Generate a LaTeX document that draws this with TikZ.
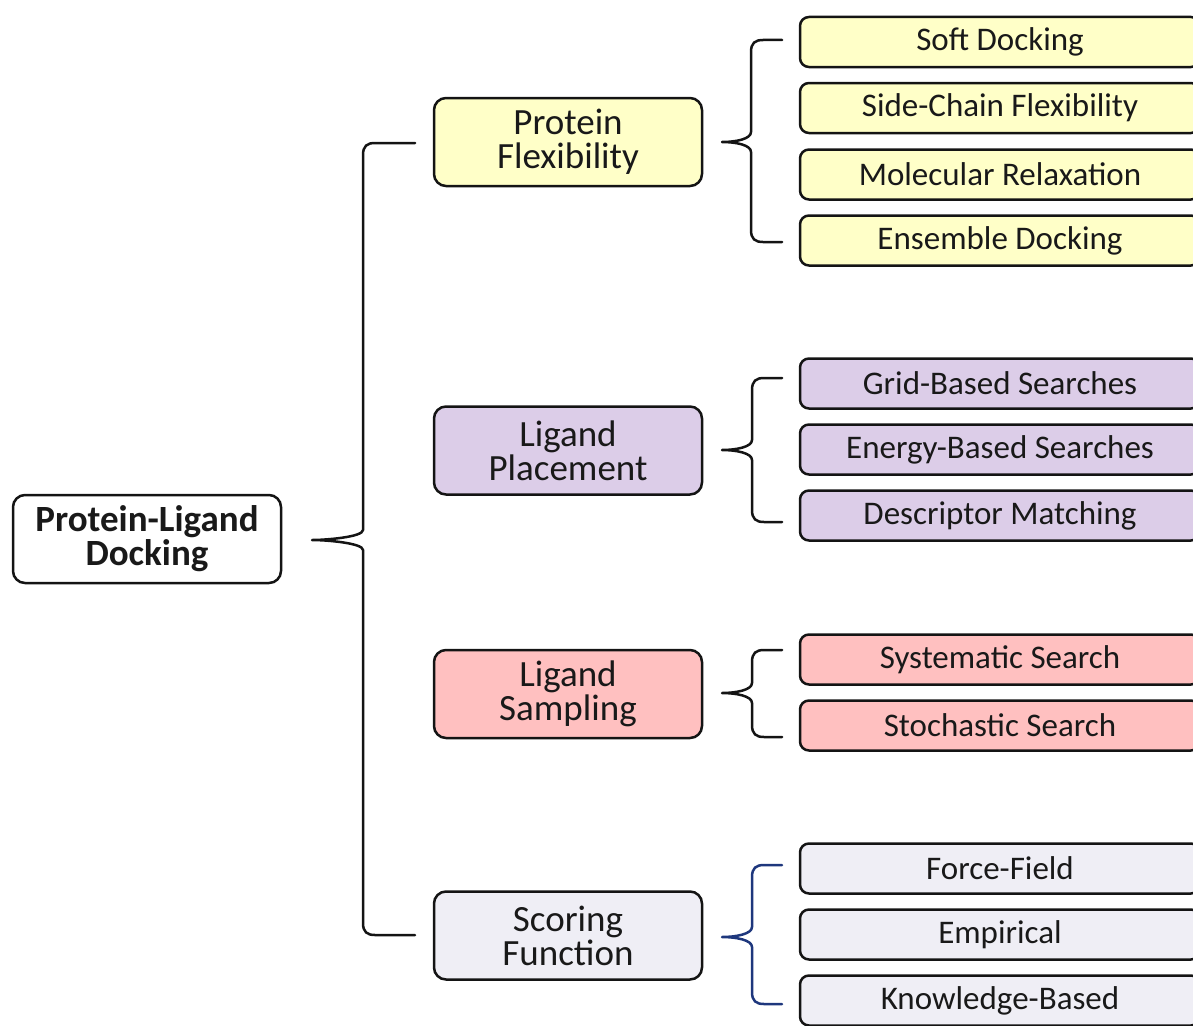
\documentclass[tikz,border=0pt]{standalone}
\usepackage{fontspec}
\setmainfont{Carlito}
\definecolor{cyel}{RGB}{255,255,200}
\definecolor{cpur}{RGB}{220,205,232}
\definecolor{cpink}{RGB}{255,192,192}
\definecolor{cgray}{RGB}{239,238,245}
\definecolor{ctext}{RGB}{25,25,25}
\definecolor{cline}{RGB}{20,20,20}
\definecolor{cnavy}{RGB}{30,55,125}
\newcommand{\bracepath}[6]{%
 (#4,#1) -- (#5+12,#1) .. controls (#5+4,#1) and (#5,#1+3) .. (#5,#1+12)
 -- (#5,#2-10) .. controls (#5,#2-3) and (#6+14,#2) .. (#6,#2)
 .. controls (#6+14,#2) and (#5,#2+3) .. (#5,#2+10)
 -- (#5,#3-12) .. controls (#5,#3-3) and (#5+4,#3) .. (#5+12,#3) -- (#4,#3)}
\tikzset{
  box/.style={draw=cline, line width=2.5pt, rounded corners=12pt, text=ctext, align=center, inner sep=0pt},
  mainbox/.style={box, fill=white, minimum width=268pt, minimum height=88pt, font=\fontsize{37}{34}\selectfont\bfseries},
  midbox/.style={box, minimum width=268pt, minimum height=88pt, font=\fontsize{37}{34}\selectfont},
  leafbox/.style={box, rounded corners=9pt, minimum width=400pt, minimum height=50pt, font=\fontsize{33}{36}\selectfont},
  bracestyle/.style={draw=cline, line width=2.5pt, line cap=round, line join=round},
}
\begin{document}
\begin{tikzpicture}[x=1pt,y=-1pt]
\useasboundingbox (0,0) rectangle (1193,1025);
\clip (0,0) rectangle (1193,1025);
% main
\node[mainbox] (main) at (147,539) {Protein-Ligand\\Docking};
% mid
\node[midbox, fill=cyel] (pf) at (568,142) {Protein\\Flexibility};
\node[midbox, fill=cpur] (lp) at (568,450.5) {Ligand\\Placement};
\node[midbox, fill=cpink] (ls) at (568,694) {Ligand\\Sampling};
\node[midbox, fill=cgray] (sf) at (568,935.5) {Scoring\\Function};
% leaves
\node[leafbox, fill=cyel] (l1) at (1000,42) {Soft Docking};
\node[leafbox, fill=cyel] (l2) at (1000,108) {Side-Chain Flexibility};
\node[leafbox, fill=cyel] (l3) at (1000,174.5) {Molecular Relaxation};
\node[leafbox, fill=cyel] (l4) at (1000,240.5) {Ensemble Docking};
\node[leafbox, fill=cpur] (l5) at (1000,383.5) {Grid-Based Searches};
\node[leafbox, fill=cpur] (l6) at (1000,449.5) {Energy-Based Searches};
\node[leafbox, fill=cpur] (l7) at (1000,515.5) {Descriptor Matching};
\node[leafbox, fill=cpink] (l8) at (1000,659.5) {Systematic Search};
\node[leafbox, fill=cpink] (l9) at (1000,725.5) {Stochastic Search};
\node[leafbox, fill=cgray] (l10) at (1000,868.5) {Force-Field};
\node[leafbox, fill=cgray] (l11) at (1000,934.5) {Empirical};
\node[leafbox, fill=cgray] (l12) at (1000,1000.5) {Knowledge-Based};
% braces
\coordinate (tip0) at (312,540);
\coordinate (tip1) at (722,142);
\coordinate (tip2) at (722,450);
\coordinate (tip3) at (722,693);
\coordinate (tip4) at (722,937);
\draw[bracestyle] \bracepath{143}{540}{935}{415}{363}{312};
\draw[bracestyle] \bracepath{40}{142}{242}{782}{751}{722};
\draw[bracestyle] \bracepath{378}{450}{522}{782}{752}{722};
\draw[bracestyle] \bracepath{650}{693}{737}{782}{752}{722};
\draw[bracestyle, draw=cnavy] \bracepath{865}{937}{1004}{782}{752}{722};
\end{tikzpicture}
\end{document}
